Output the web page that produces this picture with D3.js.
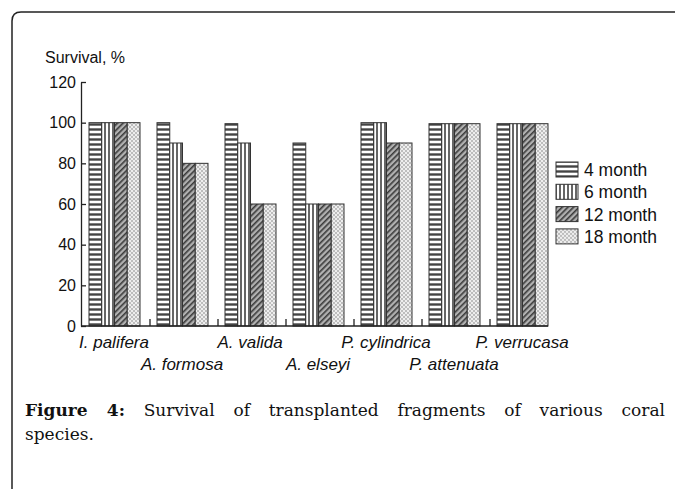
<!DOCTYPE html>
<html>
<head>
<meta charset="utf-8">
<script src="https://cdn.jsdelivr.net/npm/d3@7"></script>
<style>
  body { margin: 0; background: #fff; }
  svg { display: block; }
</style>
</head>
<body>
<svg id="fig" width="675" height="489"></svg>
<script>
"use strict";

// données
var especes = ["I. palifera", "A. formosa", "A. valida", "A. elseyi", "P. cylindrica", "P. attenuata", "P. verrucasa"];
var series = ["4 month", "6 month", "12 month", "18 month"];
var mois4  = [100, 100, 99.5, 90, 100, 99.5, 99.5];
var mois6  = [100, 90, 90, 60, 100, 99.5, 99.5];
var mois12 = [100, 80, 60, 60, 90, 99.5, 99.5];
var mois18 = [100, 80, 60, 60, 90, 99.5, 99.5];
var valeursY = [0, 20, 40, 60, 80, 100, 120];

var valeurs = [mois4, mois6, mois12, mois18];
var motifs = ["m-horiz", "m-vert", "m-diag", "m-points"];

var svg = d3.select("#fig");
var defs = svg.append("defs");

// motifs de remplissage
var p = defs.append("pattern").attr("id", "m-horiz").attr("patternUnits", "userSpaceOnUse")
    .attr("width", 6).attr("height", 5);
p.append("rect").attr("width", 6).attr("height", 5).attr("fill", "#7d7d7d");
p.append("rect").attr("y", 1).attr("width", 6).attr("height", 2).attr("fill", "#fff");
p.append("rect").attr("y", 4).attr("width", 6).attr("height", 1).attr("fill", "#444");

p = defs.append("pattern").attr("id", "m-vert").attr("patternUnits", "userSpaceOnUse")
    .attr("width", 4).attr("height", 6);
p.append("rect").attr("width", 4).attr("height", 6).attr("fill", "#666");
p.append("rect").attr("x", 1).attr("width", 2).attr("height", 6).attr("fill", "#fff");

p = defs.append("pattern").attr("id", "m-diag").attr("patternUnits", "userSpaceOnUse")
    .attr("width", 4).attr("height", 4).attr("patternTransform", "rotate(45)");
p.append("rect").attr("width", 4).attr("height", 4).attr("fill", "#b0b0b0");
p.append("rect").attr("width", 1.6).attr("height", 4).attr("fill", "#3a3a3a");

p = defs.append("pattern").attr("id", "m-points").attr("patternUnits", "userSpaceOnUse")
    .attr("width", 4).attr("height", 4);
p.append("rect").attr("width", 4).attr("height", 4).attr("fill", "#bdbdbd");
p.append("circle").attr("cx", 1).attr("cy", 1).attr("r", 1).attr("fill", "#fff");
p.append("circle").attr("cx", 3).attr("cy", 3).attr("r", 1).attr("fill", "#fff");

// cadre arrondi
svg.append("path")
    .attr("d", "M12,489 L12,21 Q12,12 21,12 L675,12")
    .attr("fill", "none").attr("stroke", "#222").attr("stroke-width", 1.5);

var axeX0 = 81, pas = 68;
var x0 = d3.scaleBand().domain(especes).range([axeX0, axeX0 + pas * especes.length]);
var x1 = d3.scaleBand().domain(series).range([8, 59]);
var y = d3.scaleLinear().domain([0, 120]).range([326, 82]);

var police = "'Liberation Sans', Arial, sans-serif";

// barres
var groupes = svg.append("g").selectAll("g").data(especes).enter().append("g")
    .attr("transform", function(d) { return "translate(" + x0(d) + ",0)"; });

groupes.selectAll("rect").data(function(d, i) {
    return series.map(function(s, j) { return {serie: s, j: j, v: valeurs[j][i]}; });
}).enter().append("rect")
    .attr("x", function(d) { return x1(d.serie); })
    .attr("y", function(d) { return y(d.v); })
    .attr("width", x1.bandwidth())
    .attr("height", function(d) { return y(0) - y(d.v); })
    .attr("fill", function(d) { return "url(#" + motifs[d.j] + ")"; })
    .attr("stroke", "#333").attr("stroke-width", 1);

// axe Y
var axeY = svg.append("g").attr("transform", "translate(" + axeX0 + ",0)")
    .call(d3.axisLeft(y).tickValues(valeursY).tickSize(-5).tickSizeOuter(0).tickPadding(5));
axeY.select(".domain").attr("stroke", "#222").attr("stroke-width", 1.3);
axeY.selectAll(".tick line").attr("stroke", "#222").attr("stroke-width", 1.3);
axeY.selectAll("text").style("font-family", police).style("font-size", "16px").attr("fill", "#111");

// axe X
var axeX = svg.append("g").attr("transform", "translate(0," + y(0) + ")")
    .call(d3.axisBottom(x0).tickSize(0).tickPadding(0));
axeX.select(".domain").remove();
axeX.selectAll("text")
    .style("font-family", police).style("font-size", "17px").style("font-style", "italic")
    .attr("fill", "#111")
    .attr("dy", function(d, i) { return i % 2 === 0 ? "22" : "44"; });
axeX.selectAll(".tick").attr("transform", function(d) { return "translate(" + (x0(d) + 33) + ",0)"; });

svg.append("line")
    .attr("x1", axeX0).attr("x2", x0(especes[especes.length - 1]) + 59)
    .attr("y1", y(0)).attr("y2", y(0))
    .attr("stroke", "#222").attr("stroke-width", 1.3);

// petites graduations entre les groupes
svg.append("g").selectAll("line").data(especes.slice(1)).enter().append("line")
    .attr("x1", function(d) { return x0(d) + 1; }).attr("x2", function(d) { return x0(d) + 1; })
    .attr("y1", y(0)).attr("y2", y(0) - 7)
    .attr("stroke", "#222").attr("stroke-width", 1.3);

// titre de l'axe
svg.append("text").attr("x", 45).attr("y", 63).text("Survival, %")
    .style("font-family", police).style("font-size", "16px").attr("fill", "#111");

// légende
var legende = svg.append("g").selectAll("g").data(series).enter().append("g")
    .attr("transform", function(d, i) { return "translate(556," + (162 + i * 22.3) + ")"; });
legende.append("rect").attr("width", 22).attr("height", 15)
    .attr("fill", function(d, i) { return "url(#" + motifs[i] + ")"; })
    .attr("stroke", "#333").attr("stroke-width", 1);
legende.append("text").attr("x", 28).attr("y", 14).text(function(d) { return d; })
    .style("font-family", police).style("font-size", "17.5px").attr("fill", "#111");

// légende de la figure, justifiée
var serif = "'DejaVu Serif', 'Liberation Serif', serif";
var ligne1 = svg.append("text").attr("x", 25).attr("y", 416)
    .style("font-family", serif).style("font-size", "17px").attr("fill", "#111");
ligne1.append("tspan").attr("font-weight", "bold").text("Figure 4:");
ligne1.append("tspan").text(" Survival of transplanted fragments of various coral");
var largeur = ligne1.node().getComputedTextLength();
var mots = "Figure 4: Survival of transplanted fragments of various coral".split(" ").length;
ligne1.attr("word-spacing", Math.max(0, (665 - 25 - largeur) / (mots - 1)));

svg.append("text").attr("x", 25).attr("y", 440).text("species.")
    .style("font-family", serif).style("font-size", "17px").attr("fill", "#111");
</script>
</body>
</html>
